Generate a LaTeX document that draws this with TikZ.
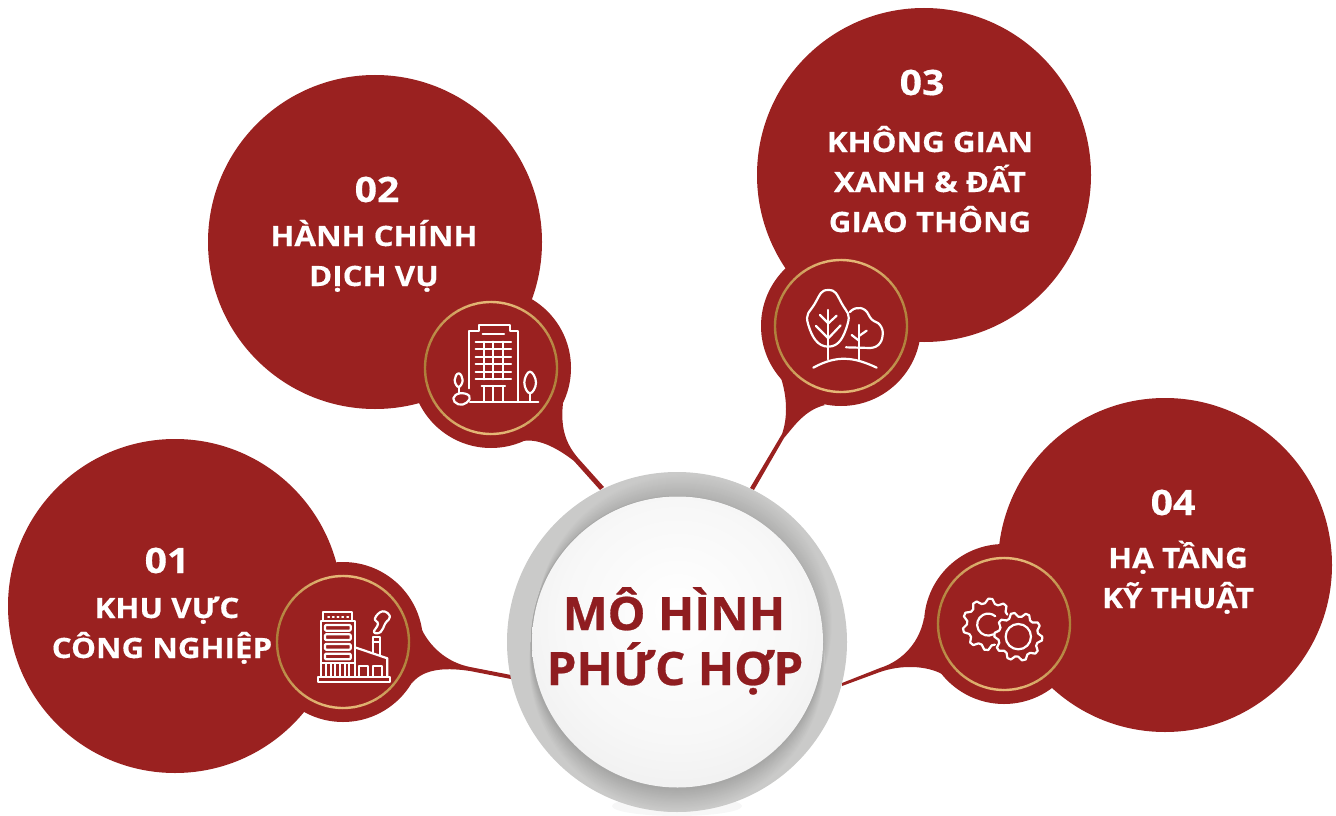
\documentclass[tikz,border=0pt]{standalone}
\usepackage{fontspec}
\setmainfont{Open Sans}[FakeStretch=1.12,BoldFeatures={FakeBold=0.35}]
\newfontfamily\titlefont{Open Sans}[FakeStretch=1.035,BoldFeatures={FakeBold=0.6}]
\definecolor{wine}{HTML}{9A2120}
\definecolor{winetxt}{HTML}{8F1D20}
\definecolor{goldL}{HTML}{E6B877}
\definecolor{goldD}{HTML}{AE7F3A}
\definecolor{rimgray}{HTML}{CACAC9}
\definecolor{rimdark}{HTML}{A6A6A5}
\definecolor{rimtop}{HTML}{B0B0AF}
\pgfdeclareradialshading{discshade}{\pgfpoint{0bp}{6bp}}{color(0bp)=(white); color(20bp)=(white!97!black); color(50bp)=(white!88!black)}
\tikzset{
  bubble/.style={circle,fill=wine,minimum size=334pt,inner sep=0pt,outer sep=0pt},
  blob/.style={circle,fill=wine,minimum size=160pt,inner sep=0pt,outer sep=0pt},
  tail/.style={fill=wine,draw=none},
  num/.style={text=white,font=\fontsize{35}{35}\selectfont\bfseries,anchor=base,inner sep=0pt},
  lab/.style={text=white,font=\fontsize{28}{28}\selectfont\bfseries,anchor=base,inner sep=0pt},
  title/.style={text=winetxt,font=\fontsize{46}{46}\selectfont\titlefont\bfseries,anchor=base,inner sep=0pt},
  ico/.style={draw=white,line width=2.2pt,line join=round,line cap=round,fill=none},
  icot/.style={draw=white,line width=1.8pt,line join=round,line cap=round,fill=none}
}
\newcommand{\goldring}[2]{%
  \foreach \a in {0,5,...,355}{%
    \pgfmathsetmacro\pc{50+50*cos(2*(\a-90))}%
    \draw[color=goldL!\pc!goldD,line width=2.4pt] ({#1+66*cos(\a)},{#2+66*sin(\a)}) arc[start angle=\a,end angle=\a+5.5,radius=66];
  }}
\begin{document}
\begin{tikzpicture}[x=1pt,y=-1pt]
\useasboundingbox (0,0) rectangle (1336,816);
% tails
\fill[tail] (422,630) .. controls (432,650) and (450,663) .. (470,667) -- (511,675) -- (511,679) -- (470,671) .. controls (450,668) and (425,667) .. (412,683) -- cycle;
\fill[tail] (563,403) .. controls (560,430) and (567,445) .. (578,458) -- (604,487) -- (600,490) -- (574,461) .. controls (560,450) and (540,438) .. (523,441) -- cycle;
\fill[tail] (781,378) .. controls (788,400) and (787,420) .. (782,434) -- (750,488) -- (754,490) -- (784,438) .. controls (795,425) and (805,410) .. (825,405) -- cycle;
\fill[tail] (924,618) .. controls (920,640) and (905,660) .. (880,668) -- (842,683) -- (842,686) -- (880,672) .. controls (900,665) and (925,665) .. (942,674) -- cycle;
% bubbles
\node[bubble] (b1) at (175,606) {};
\node[bubble] (b2) at (375,242) {};
\node[bubble] (b3) at (924,175) {};
\node[bubble] (b4) at (1165,565) {};
\node[blob] (s1) at (343,642) {};
\node[blob] (s2) at (491,368) {};
\node[blob] (s3) at (841,326) {};
\node[blob] (s4) at (1004,624) {};
\goldring{343}{642}
\goldring{491}{368}
\goldring{841}{326}
\goldring{1004}{624}
% centre disc
\fill[black!3] (677,806) ellipse[x radius=65,y radius=10];
\begin{scope}
  \fill[rimgray] (677,642) circle[radius=170];
  \clip (677,642) circle[radius=170];
  \foreach \i in {0,...,22}{%
    \pgfmathsetmacro\cc{22-\i}%
    \pgfmathsetmacro\rr{146*sqrt(1+(\cc/146)*(\cc/146))}%
    \pgfmathsetmacro\pc{100*\i/22}%
    \fill[color=rimtop!\pc!rimgray] ({677+0.35*\cc},{642-0.94*\cc}) circle[radius=\rr];
  }
  \foreach \i in {0,...,22}{%
    \pgfmathsetmacro\cc{22-\i}%
    \pgfmathsetmacro\rr{146*sqrt(1+(\cc/146)*(\cc/146))}%
    \pgfmathsetmacro\pc{100*\i/22}%
    \fill[color=rimdark!\pc!rimgray] (677,{642+\cc}) circle[radius=\rr];
  }
\end{scope}
\shade[shading=discshade] (677.5,642) circle[radius=145.5];
% texts
\node[num] (n1) at (167,573) {01};
\node[lab] (t1a) at (167,618) {KHU VỰC};
\node[lab] (t1b) at (162,658) {CÔNG NGHIỆP};
\node[num] (n2) at (377,202) {02};
\node[lab] (t2a) at (374,246) {HÀNH CHÍNH};
\node[lab] (t2b) at (374,286) {DỊCH VỤ};
\node[num] (n3) at (922,95) {03};
\node[lab] (t3a) at (930,152) {KHÔNG GIAN};
\node[lab] (t3b) at (930,192) {XANH \& ĐẤT};
\node[lab] (t3c) at (930,232) {GIAO THÔNG};
\node[num] (n4) at (1173,515) {04};
\node[lab] (t4a) at (1178,568) {HẠ TẦNG};
\node[lab] (t4b) at (1178,608) {KỸ THUẬT};
\node[title] (c1) at (674,630) {MÔ HÌNH};
\node[title] (c2) at (675,685) {PHỨC HỢP};
% icon 1: factory
\begin{scope}[shift={(260,560)},x=0.3333pt,y=-0.3333pt]
  \draw[ico] (175,350) rectangle (390,367);
  \draw[ico] (183,350) -- (183,183) -- (285,183) -- (285,350);
  \draw[ico] (190,183) -- (190,155) -- (277,155) -- (277,183);
  \foreach \xx in {204,218,232,246,261}{\draw[icot] (\xx,170) -- (\xx+4,170);}
  \foreach \yy in {195,223,252,281}{\draw[ico,rounded corners=1pt] (195,\yy) rectangle (272,\yy+17);}
  \draw[icot] (183,308) -- (285,308);
  \foreach \xx in {198,212,226,240,254,268}{\draw[icot] (\xx,312) -- (\xx,350);}
  \draw[ico] (285,262) -- (382,295) -- (382,350);
  \draw[ico] (297,350) -- (297,318) -- (323,318) -- (323,350);
  \draw[ico] (340,350) -- (340,318) -- (365,318) -- (365,350);
  \draw[ico] (338,278) -- (338,232) -- (360,232) -- (360,285);
  \draw[icot] (338,246) -- (360,246);
  \draw[ico] plot[smooth cycle,tension=0.8] coordinates {(342,216) (354,192) (345,175) (368,154) (390,170) (376,190) (362,216)};
\end{scope}
% icon 2: tower
\begin{scope}[shift={(410,290)},x=0.3333pt,y=-0.3333pt]
  \draw[ico] (178,295) -- (178,122) -- (207,122) -- (207,105) -- (300,105) -- (300,122) -- (325,122) -- (325,332);
  \draw[ico] (218,133) -- (282,133);
  \foreach \yy in {155,178,202,222,245,268}{\draw[ico] (197,\yy) -- (303,\yy);}
  \foreach \xx in {222,250,278}{\draw[ico] (\xx,155) -- (\xx,268);}
  \draw[ico] (215,288) -- (285,288);
  \draw[ico] (221,288) -- (221,332);
  \draw[ico] (250,288) -- (250,332);
  \draw[ico] (279,288) -- (279,332);
  \draw[ico] (180,335) -- (385,335);
  \draw[ico] plot[smooth cycle,tension=0.8] coordinates {(146,250) (158,270) (146,291) (134,270)};
  \draw[ico] (146,291) -- (146,308);
  \draw[ico] plot[smooth cycle,tension=0.8] coordinates {(130,325) (150,310) (178,318) (170,338) (145,343)};
  \draw[ico] plot[smooth cycle,tension=0.8] coordinates {(360,245) (378,278) (360,310) (343,278)};
  \draw[ico] (360,310) -- (360,335);
\end{scope}
% icon 3: trees
\begin{scope}[shift={(740,250)},x=0.3333pt,y=-0.3333pt]
  \draw[ico] plot[smooth cycle,tension=1] coordinates {(265,120) (305,160) (322,225) (265,290) (205,225) (225,160)};
  \draw[ico] (265,180) -- (265,328);
  \draw[ico] (240,195) -- (265,220) -- (290,197);
  \draw[ico] (228,228) -- (265,265) -- (302,226);
  \draw[ico] plot[smooth,tension=0.8] coordinates {(330,186) (348,175) (375,180) (395,208) (420,225) (428,255) (415,285) (390,294)};
  \draw[ico] (390,294) -- (318,292);
  \draw[ico] (357,225) -- (357,328);
  \draw[ico] (335,255) -- (357,272);
  \draw[ico] (380,242) -- (357,258);
  \draw[ico] (220,353) .. controls (290,315) and (340,320) .. (410,353);
\end{scope}
% icon 4: gears
\begin{scope}[shift={(830,540)},x=0.3333pt,y=-0.3333pt]
  \draw[ico] plot[domain=-288:-27,samples=30,variable=\t] ({475+(Mod(round((\t+288)/9),4)<2?64:77)*cos(\t)},{253+(Mod(round((\t+288)/9),4)<2?64:77)*sin(\t)});
  \draw[ico] (490,283) arc[start angle=62,end angle=310,radius=33];
  \draw[ico] plot[domain=0:360,samples=41,variable=\t] ({565+(Mod(round(\t/9),4)<2?72:60)*cos(\t)},{290+(Mod(round(\t/9),4)<2?72:60)*sin(\t)});
  \draw[ico] (565,290) circle[radius=38];
\end{scope}
\end{tikzpicture}
\end{document}
